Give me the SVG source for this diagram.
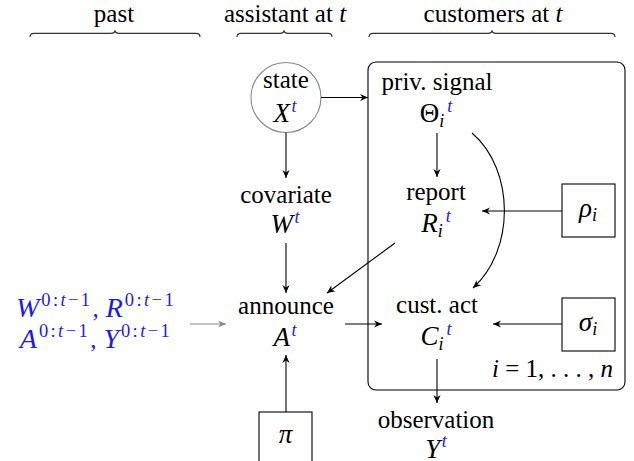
<svg xmlns="http://www.w3.org/2000/svg" width="634" height="461" viewBox="0 0 634 461">
<style>
.t{font-family:"Liberation Serif",serif;font-size:25px;fill:#000;text-anchor:middle}
.m{font-style:italic;font-size:27px}
.mi{font-style:italic}
.sp{font-size:18px;font-style:italic;fill:#1c1ce0}
.sb{font-size:18px;font-style:italic}
.b{fill:#1c1ce0}
.bm{font-style:italic;font-size:28px}
.bs{font-size:18.5px;fill:#1c1ce0;letter-spacing:2.4px}
.e{fill:none;stroke:#000;stroke-width:1.1}
.g{fill:none;stroke:#888;stroke-width:1.1}
.br{fill:none;stroke:#333;stroke-width:1.2}
</style>
<defs>
<marker id="ah" viewBox="-9 -5 10 10" refX="0" refY="0" markerWidth="10" markerHeight="10" orient="auto" markerUnits="userSpaceOnUse"><path d="M0,0 L-8,-3.6 L-5.5,0 L-8,3.6 Z" fill="#000"/></marker>
<marker id="ahg" viewBox="-9 -5 10 10" refX="0" refY="0" markerWidth="10" markerHeight="10" orient="auto" markerUnits="userSpaceOnUse"><path d="M0,0 L-8,-3.6 L-5.5,0 L-8,3.6 Z" fill="#888"/></marker>
</defs>
<g id="headers">
<text class="t" x="114" y="22">past</text>
<text class="t" x="285" y="22">assistant at <tspan class="mi">t</tspan></text>
<text class="t" x="493" y="22">customers at <tspan class="mi">t</tspan></text>
<path class="br" d="M30,37 Q30,33.3 34,33.3 L111,33.3 Q115,33.3 115,30.3 Q115,33.3 119,33.3 L196,33.3 Q200,33.3 200,37"/>
<path class="br" d="M237,37 Q237,33.3 241,33.3 L280,33.3 Q284,33.3 284,30.3 Q284,33.3 288,33.3 L328,33.3 Q332,33.3 332,37"/>
<path class="br" d="M369,37 Q369,33.3 373,33.3 L488,33.3 Q492,33.3 492,30.3 Q492,33.3 496,33.3 L611,33.3 Q615,33.3 615,37"/>
</g>
<g id="plate">
<rect x="368" y="62" width="257" height="328" rx="8" fill="none" stroke="#000" stroke-width="1.1"/>
<text class="t" x="613" y="377" style="text-anchor:end"><tspan class="mi">i</tspan> = 1, . . . , <tspan class="mi">n</tspan></text>
</g>
<g id="state">
<circle cx="286" cy="97.5" r="35" fill="none" stroke="#888" stroke-width="1.1"/>
<text class="t" x="286" y="88">state</text>
<text class="t" x="285" y="122"><tspan class="m">X</tspan><tspan class="sp" dx="1.5" dy="-10">t</tspan></text>
</g>
<g id="covariate">
<text class="t" x="286" y="203">covariate</text>
<text class="t" x="285" y="233"><tspan class="m">W</tspan><tspan class="sp" dx="1.5" dy="-10">t</tspan></text>
</g>
<g id="announce">
<text class="t" x="286" y="314">announce</text>
<text class="t" x="285" y="346"><tspan class="m">A</tspan><tspan class="sp" dx="1.5" dy="-10">t</tspan></text>
</g>
<g id="past">
<text class="t b" x="96" y="317"><tspan class="bm">W</tspan><tspan class="bs" dx="2" dy="-11">0:<tspan class="mi">t</tspan>−1</tspan><tspan dy="11">,</tspan><tspan class="bm" dx="7">R</tspan><tspan class="bs" dx="2" dy="-11">0:<tspan class="mi">t</tspan>−1</tspan></text>
<text class="t b" x="96" y="348"><tspan class="bm">A</tspan><tspan class="bs" dx="2" dy="-11">0:<tspan class="mi">t</tspan>−1</tspan><tspan dy="11">,</tspan><tspan class="bm" dx="7">Y</tspan><tspan class="bs" dx="2" dy="-11">0:<tspan class="mi">t</tspan>−1</tspan></text>
</g>
<g id="pi">
<rect x="259" y="412" width="53" height="60" fill="none" stroke="#000" stroke-width="1.1"/>
<text class="t m" x="285.5" y="443">π</text>
</g>
<g id="signal">
<text class="t" x="437" y="90">priv. signal</text>
<text class="t" x="436" y="122"><tspan style="font-size:27px">Θ</tspan><tspan class="sb" dy="5">i</tspan><tspan class="sp" dx="3" dy="-15">t</tspan></text>
</g>
<g id="report">
<text class="t" x="436" y="200">report</text>
<text class="t" x="436" y="232"><tspan class="m">R</tspan><tspan class="sb" dy="5">i</tspan><tspan class="sp" dx="3" dy="-15">t</tspan></text>
</g>
<g id="rho">
<rect x="562" y="184" width="53" height="53" fill="none" stroke="#000" stroke-width="1.1"/>
<text class="t" x="588" y="217"><tspan class="m">ρ</tspan><tspan class="sb" dy="4">i</tspan></text>
</g>
<g id="custact">
<text class="t" x="437" y="313">cust. act</text>
<text class="t" x="436" y="345"><tspan class="m">C</tspan><tspan class="sb" dy="5">i</tspan><tspan class="sp" dx="3" dy="-15">t</tspan></text>
</g>
<g id="sigma">
<rect x="562" y="298" width="53" height="53" fill="none" stroke="#000" stroke-width="1.1"/>
<text class="t" x="588" y="331"><tspan class="m">σ</tspan><tspan class="sb" dy="4">i</tspan></text>
</g>
<g id="observation">
<text class="t" x="436" y="428">observation</text>
<text class="t" x="436" y="458"><tspan class="m">Y</tspan><tspan class="sp" dx="1.5" dy="-11">t</tspan></text>
</g>
<g id="connectors">
<path class="e" d="M321,97.5 L368,97.5" marker-end="url(#ah)"/>
<path class="e" d="M286,132.5 L286,178" marker-end="url(#ah)"/>
<path class="e" d="M286,243 L286,293" marker-end="url(#ah)"/>
<path class="e" d="M437,133 L437,177" marker-end="url(#ah)"/>
<path class="e" d="M562,211 L482,211" marker-end="url(#ah)"/>
<path class="e" d="M472,133 C515,170 515,250 473,288" marker-end="url(#ah)"/>
<path class="e" d="M395,243 L327,293" marker-end="url(#ah)"/>
<path class="g" d="M190,324 L226,324" marker-end="url(#ahg)"/>
<path class="e" d="M345,324 L382,324" marker-end="url(#ah)"/>
<path class="e" d="M562,324 L493,324" marker-end="url(#ah)"/>
<path class="e" d="M437,359 L437,403" marker-end="url(#ah)"/>
<path class="e" d="M286,412 L286,355" marker-end="url(#ah)"/>
</g>
</svg>
